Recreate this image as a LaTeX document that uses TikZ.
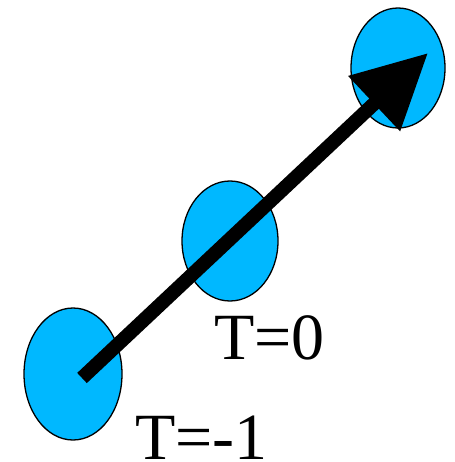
\documentclass[tikz,border=0pt]{standalone}
\usepackage{fontspec}
\setmainfont{Liberation Serif}
\usetikzlibrary{shapes.geometric,arrows.meta}
\definecolor{blob}{RGB}{0,184,255}
\begin{document}
\begin{tikzpicture}[x=1pt,y=-1pt,
  blobnode/.style={ellipse,draw=black,line width=1.3pt,fill=blob,inner sep=0pt},
  lbl/.style={anchor=base west,inner sep=0pt,font=\fontsize{66}{70}\selectfont}]
\useasboundingbox (0,0) rectangle (454,462);
\node[blobnode,minimum width=98pt,minimum height=132pt] (b1) at (73,374) {};
\node[blobnode,minimum width=96pt,minimum height=120pt] (b2) at (230,241) {};
\node[blobnode,minimum width=94pt,minimum height=120pt] (b3) at (398,68) {};
\coordinate (start) at (82,378);
\coordinate (tip) at (428,53);
\draw[line width=14pt,-{Triangle[length=74pt,width=72pt]}] (start) -- (tip);
\node[lbl] (t0) at (214,359) {T=0};
\node[lbl] (t1) at (135,459) {T=-1};
\end{tikzpicture}
\end{document}
